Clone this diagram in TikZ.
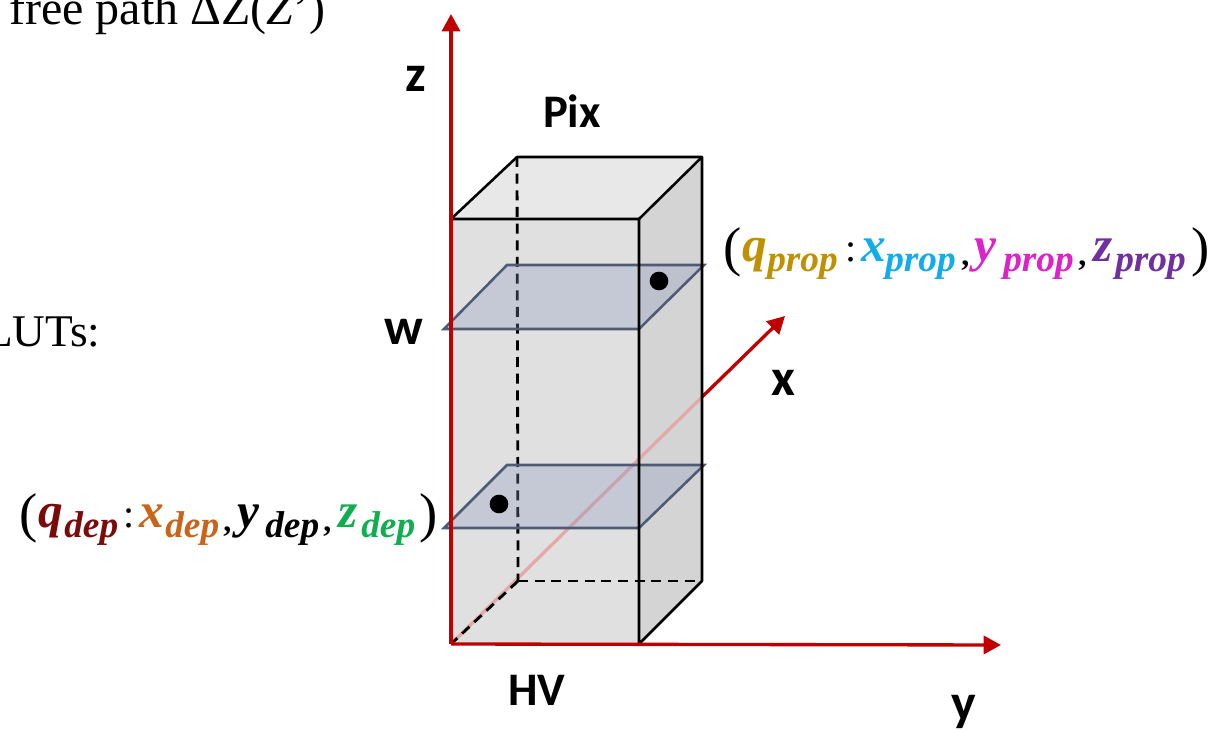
\documentclass[tikz,border=0pt]{standalone}
\usepackage{fontspec}
\setmainfont{Liberation Serif}
\newfontfamily\lab{Carlito}[BoldFont={Carlito Bold}]
\usetikzlibrary{arrows.meta}
\definecolor{axred}{HTML}{C00000}
\definecolor{palered}{HTML}{E3A9A9}
\definecolor{planeline}{HTML}{4F5B75}
\definecolor{planefill}{HTML}{8596BE}
\definecolor{cq}{HTML}{7B0A0A}
\definecolor{cx}{HTML}{C9651B}
\definecolor{cz}{HTML}{0FAF50}
\definecolor{pq}{HTML}{BF9000}
\definecolor{px}{HTML}{12ACE8}
\definecolor{py}{HTML}{DC22C8}
\definecolor{pz}{HTML}{7030A0}
% #1 offset in px from the start of the formula
\newcommand{\putat}[2]{\rlap{\hspace*{\dimexpr#1pt*3/4\relax}#2}}
\newcommand{\mainl}[2]{\textcolor{#1}{\fontsize{37}{37}\selectfont\bfseries\itshape #2}}
\newcommand{\subl}[2]{\textcolor{#1}{\raisebox{-7.5pt}{\fontsize{28}{28}\selectfont\bfseries\itshape #2}}}
\newcommand{\sepl}[1]{\raisebox{-3pt}{\fontsize{24}{24}\selectfont\bfseries #1}}
\newcommand{\colonl}{{\fontsize{30}{30}\selectfont :}}
\newcommand{\paren}[1]{\raisebox{-3pt}{\fontsize{41}{41}\selectfont #1}}
\tikzset{
 axis/.style={axred,line width=2.5pt,-{Triangle[length=13pt,width=13.5pt]}},
 face/.style={draw=black,line width=1.9pt,line join=round},
 hid/.style={black,line width=2.1pt,dash pattern=on 7.5pt off 5pt},
 plane/.style={draw=planeline,line width=1.9pt,fill=planefill,fill opacity=0.3},
 dotm/.style={circle,fill=black,inner sep=0pt,minimum size=14pt},
 tag/.style={font=\lab\bfseries\fontsize{35}{35}\selectfont,inner sep=0pt,anchor=base},
 bigtag/.style={font=\lab\bfseries\fontsize{39}{39}\selectfont,inner sep=0pt,anchor=base},
 serif/.style={font=\fontsize{36}{36}\selectfont,inner sep=0pt,anchor=base west},
 serifb/.style={font=\fontsize{34}{34}\selectfont,inner sep=0pt,anchor=base west},
 eq/.style={inner sep=0pt,anchor=base west},
}
\begin{document}
\begin{tikzpicture}[x=0.75pt,y=-0.75pt]
\useasboundingbox (0,0) rectangle (1209,730);
\clip (0,0) rectangle (1209,730);
% corners
\coordinate (O) at (451,644);
\coordinate (F) at (639,644);
\coordinate (G) at (639,219);
\coordinate (E) at (451,219);
\coordinate (B) at (518,581);
\coordinate (C) at (702,581);
\coordinate (D) at (702,157);
\coordinate (H) at (517,157);
\coordinate (zt) at (451,14);
\coordinate (yt) at (1001,645);
\coordinate (xt) at (785,316);
\coordinate (xs) at (702,397);
% faces
\fill[white!91!black] (E) -- (G) -- (D) -- (H) -- cycle;
\fill[white!83!black] (F) -- (C) -- (D) -- (G) -- cycle;
\fill[white!88!black] (O) -- (F) -- (G) -- (E) -- cycle;
% hidden edges and x axis
\draw[palered,line width=2.5pt] (O) -- (xs);
\draw[axis] (xs) -- (xt);
\draw[hid] (H) -- (B);
\draw[hid] (B) -- (C);
\draw[hid] (B) -- (O);
% planes
\coordinate (p1) at (444,329);\coordinate (p2) at (639,329);\coordinate (p3) at (704,265);\coordinate (p4) at (507,265);
\coordinate (q1) at (444,528);\coordinate (q2) at (639,528);\coordinate (q3) at (704,465);\coordinate (q4) at (507,465);
\draw[plane] (p1) -- (p2) -- (p3) -- (p4) -- cycle;
\draw[plane] (q1) -- (q2) -- (q3) -- (q4) -- cycle;
% outline
\draw[face] (E) -- (G) -- (F) -- (C) -- (D) -- (H) -- cycle;
\draw[face] (G) -- (D);
\draw[face] (O) -- (F);
% axes
\draw[axis] (O) -- (zt);
\draw[axis] (O) -- (yt);
% dots
\node[dotm] (d1) at (659,281) {};
\node[dotm] (d2) at (499,504) {};
% labels
\node[bigtag] (lz) at (416,92) {z};
\node[tag] (lp) at (572,128) {Pix};
\node[bigtag] (lw) at (404,345) {w};
\node[bigtag] (lx) at (783,396) {x};
\node[tag] (lh) at (537,705) {HV};
\node[bigtag] (ly) at (964,720) {y};
% cropped text
\node[serif] (t1) at (9,25) {free path ΔZ(\textit{Z}')};
\node[serifb] (t2) at (-15,347) {LUTs:};
% equations
\node[eq] (e1) at (21,527) {\makebox[312.75pt][l]{%
\putat{-2}{\paren{(}}\putat{17}{\mainl{cq}{q}}\putat{43}{\subl{cq}{dep}}\putat{102}{\colonl}%
\putat{118}{\mainl{cx}{x}}\putat{144}{\subl{cx}{dep}}\putat{202}{\sepl{,}}%
\putat{216}{\mainl{black}{y}}\putat{244}{\subl{black}{dep}}\putat{302}{\sepl{,}}%
\putat{317}{\mainl{cz}{z}}\putat{340}{\subl{cz}{dep}}\putat{398}{\paren{)}}}};
\node[eq] (e2) at (725,262) {\makebox[363pt][l]{%
\putat{-2}{\paren{(}}\putat{17}{\mainl{pq}{q}}\putat{42}{\subl{pq}{prop}}\putat{120}{\colonl}%
\putat{136}{\mainl{px}{x}}\putat{160}{\subl{px}{prop}}\putat{236}{\sepl{,}}%
\putat{249}{\mainl{py}{y}}\putat{278}{\subl{py}{prop}}\putat{353}{\sepl{,}}%
\putat{368}{\mainl{pz}{z}}\putat{390}{\subl{pz}{prop}}\putat{466}{\paren{)}}}};
\end{tikzpicture}
\end{document}
